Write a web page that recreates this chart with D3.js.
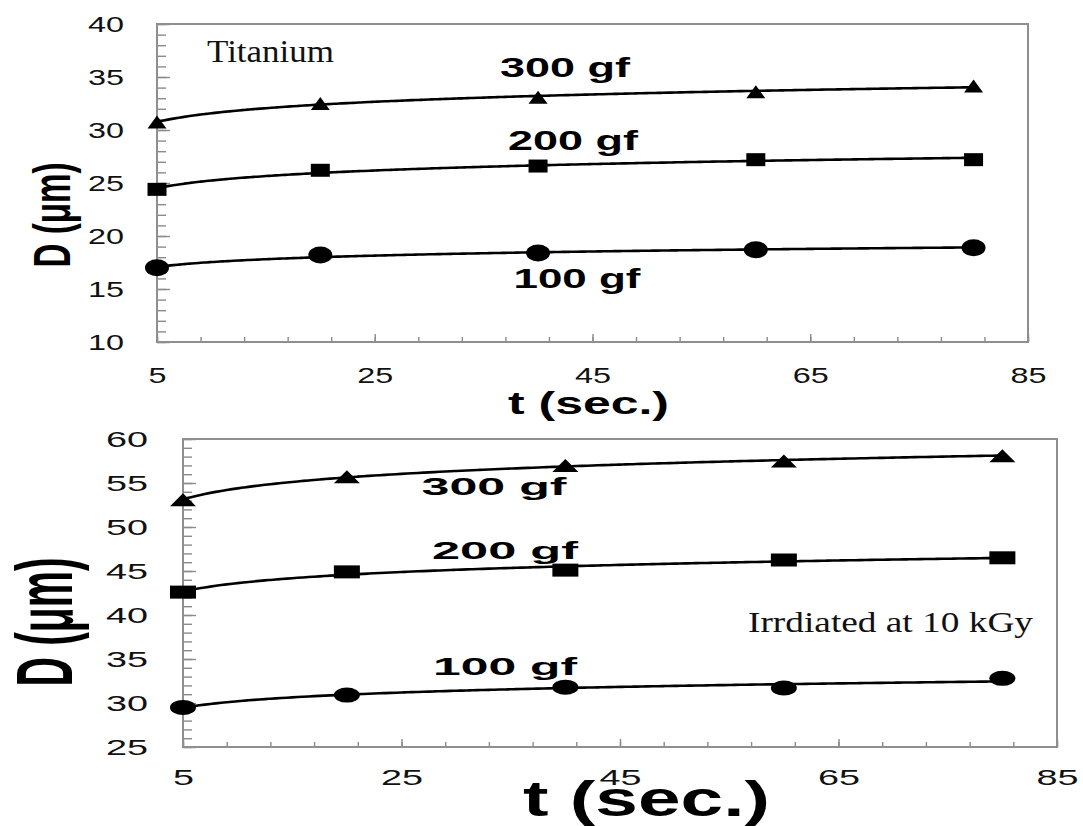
<!DOCTYPE html>
<html>
<head>
<meta charset="utf-8">
<script src="https://cdn.jsdelivr.net/npm/d3@7"></script>
<style>
  body { margin: 0; background: #fff; }
  svg { display: block; }
</style>
</head>
<body>
<div id="chart"></div>
<script>
// ---------- data ----------
var times = [5, 20, 40, 60, 80];
var loadLabels = ['300 gf', '200 gf', '100 gf'];
var markerShapes = ['triangle', 'square', 'circle'];

// Titanium (top panel), D in um
var titanium300 = [30.75, 32.5, 33.1, 33.6, 34.15];
var titanium200 = [24.4, 26.2, 26.6, 27.2, 27.2];
var titanium100 = [17.0, 18.2, 18.4, 18.7, 18.9];

// Irradiated at 10 kGy (bottom panel)
var irradiated300 = [53.1, 55.7, 57.0, 57.5, 58.1];
var irradiated200 = [42.6, 44.9, 45.1, 46.25, 46.5];
var irradiated100 = [29.5, 30.9, 31.8, 31.7, 32.8];

// tick labels
var xTickValues = [5, 25, 45, 65, 85];
var titaniumYTicks = [10, 15, 20, 25, 30, 35, 40];
var irradiatedYTicks = [25, 30, 35, 40, 45, 50, 55, 60];

var SANS = '"Liberation Sans", Arial, sans-serif';
var SERIF = '"Liberation Serif", "Times New Roman", serif';

var svg = d3.select('#chart').append('svg')
  .attr('width', 1083)
  .attr('height', 826);

// least squares fit  D = a + b*ln(t)  (trend line drawn by the plot)
function fitLog(xs, ys) {
  var lx = xs.map(Math.log);
  var mx = d3.mean(lx), my = d3.mean(ys);
  var sxy = d3.sum(lx, function (v, i) { return (v - mx) * (ys[i] - my); });
  var sxx = d3.sum(lx, function (v) { return (v - mx) * (v - mx); });
  var b = sxy / sxx;
  return { a: my - b * mx, b: b };
}

function markerPath(shape, w, h) {
  if (shape === 'triangle') {
    return 'M0,' + (-h / 2) + 'L' + (w / 2) + ',' + (h / 2) + 'L' + (-w / 2) + ',' + (h / 2) + 'Z';
  }
  if (shape === 'square') {
    return 'M' + (-w / 2) + ',' + (-h / 2) + 'h' + w + 'v' + h + 'h' + (-w) + 'Z';
  }
  // ellipse
  var rx = w / 2, ry = h / 2;
  return 'M' + (-rx) + ',0A' + rx + ',' + ry + ' 0 1,0 ' + rx + ',0A' + rx + ',' + ry + ' 0 1,0 ' + (-rx) + ',0Z';
}

function renderPanel(params) {
  var attrs = params;

  //Scales
  var x = d3.scaleLinear().domain([5, 85]).range([attrs.left, attrs.right]);
  var y = d3.scaleLinear().domain(attrs.yDomain).range([attrs.bottom, attrs.top]);

  var g = svg.append('g').attr('class', 'panel');

  // minor + major ticks (pointing inward)
  var xMinor = d3.range(5, 86, 4);
  var yMinor = d3.range(attrs.yDomain[0], attrs.yDomain[1] + 0.5, 1);

  g.append('g')
    .attr('transform', 'translate(0,' + attrs.bottom + ')')
    .call(d3.axisTop(x).tickValues(xMinor).tickSize(5).tickFormat(''))
    .call(function (a) { a.select('.domain').remove(); });
  g.append('g')
    .attr('transform', 'translate(0,' + attrs.bottom + ')')
    .call(d3.axisTop(x).tickValues(xTickValues).tickSize(8).tickFormat(''))
    .call(function (a) { a.select('.domain').remove(); });
  g.append('g')
    .attr('transform', 'translate(' + attrs.left + ',0)')
    .call(d3.axisRight(y).tickValues(yMinor).tickSize(9).tickFormat(''))
    .call(function (a) { a.select('.domain').remove(); });
  g.append('g')
    .attr('transform', 'translate(' + attrs.left + ',0)')
    .call(d3.axisRight(y).tickValues(attrs.yTicks).tickSize(13).tickFormat(''))
    .call(function (a) { a.select('.domain').remove(); });
  g.selectAll('.tick line').attr('stroke', '#8a8a8a').attr('stroke-width', 1.4);

  // frame
  g.append('rect')
    .attr('x', attrs.left)
    .attr('y', attrs.top)
    .attr('width', attrs.right - attrs.left)
    .attr('height', attrs.bottom - attrs.top)
    .attr('fill', 'none')
    .attr('stroke', '#8f8f8f')
    .attr('stroke-width', 2);

  // tick labels (the figure is stretched sideways, so use textLength)
  var xAxis = g.append('g')
    .attr('transform', 'translate(0,' + attrs.bottom + ')')
    .call(d3.axisBottom(x).tickValues(xTickValues).tickSize(0).tickPadding(0));
  xAxis.select('.domain').remove();
  xAxis.selectAll('text')
    .attr('y', attrs.xLabelBaseline - attrs.bottom)
    .attr('dy', null)
    .attr('font-family', SANS)
    .attr('font-size', attrs.tickFont)
    .attr('fill', '#111')
    .attr('textLength', function (d) { return String(d).length * attrs.charW; })
    .attr('lengthAdjust', 'spacingAndGlyphs');

  var yAxis = g.append('g')
    .attr('transform', 'translate(' + attrs.yLabelRight + ',0)')
    .call(d3.axisLeft(y).tickValues(attrs.yTicks).tickSize(0).tickPadding(0));
  yAxis.select('.domain').remove();
  yAxis.selectAll('text')
    .attr('x', 0)
    .attr('font-family', SANS)
    .attr('font-size', attrs.tickFont)
    .attr('fill', '#111')
    .attr('textLength', function (d) { return String(d).length * attrs.charW; })
    .attr('lengthAdjust', 'spacingAndGlyphs');

  // fitted curves
  var line = d3.line()
    .x(function (d) { return x(d[0]); })
    .y(function (d) { return y(d[1]); })
    .curve(d3.curveBasis);

  attrs.series.forEach(function (values, i) {
    var fit = fitLog(times, values);
    var pts = d3.range(times[0], times[times.length - 1] + 0.01, 0.5).map(function (t) {
      return [t, fit.a + fit.b * Math.log(t)];
    });
    g.append('path')
      .attr('d', line(pts))
      .attr('fill', 'none')
      .attr('stroke', '#000')
      .attr('stroke-width', 2.6);

    var m = attrs.markers[markerShapes[i]];
    g.selectAll('.mk' + i)
      .data(times.map(function (t, j) { return [t, values[j]]; }))
      .enter().append('path')
      .attr('class', 'mk' + i)
      .attr('transform', function (d) { return 'translate(' + x(d[0]) + ',' + y(d[1]) + ')'; })
      .attr('d', markerPath(markerShapes[i], m[0], m[1]))
      .attr('fill', '#000');
  });

  // load labels
  attrs.loadText.forEach(function (l, i) {
    g.append('text')
      .attr('x', l.cx)
      .attr('y', l.base)
      .attr('text-anchor', 'middle')
      .attr('font-family', SANS)
      .attr('font-weight', 'bold')
      .attr('font-size', l.size)
      .attr('textLength', l.len)
      .attr('lengthAdjust', 'spacingAndGlyphs')
      .text(loadLabels[i]);
  });

  // note
  g.append('text')
    .attr('x', attrs.note.x)
    .attr('y', attrs.note.base)
    .attr('font-family', SERIF)
    .attr('font-size', attrs.note.size)
    .attr('fill', '#111')
    .attr('textLength', attrs.note.len)
    .attr('lengthAdjust', 'spacingAndGlyphs')
    .text(attrs.note.text);

  // axis titles
  g.append('text')
    .attr('transform', 'translate(' + attrs.yTitle.x + ',' + attrs.yTitle.cy + ') rotate(-90)')
    .attr('text-anchor', 'middle')
    .attr('font-family', SANS)
    .attr('font-weight', 'bold')
    .attr('font-size', attrs.yTitle.size)
    .attr('textLength', attrs.yTitle.len)
    .attr('lengthAdjust', 'spacingAndGlyphs')
    .text('D (\u03bcm)');

  g.append('text')
    .attr('x', attrs.xTitle.x)
    .attr('y', attrs.xTitle.base)
    .attr('font-family', SANS)
    .attr('font-weight', 'bold')
    .attr('font-size', attrs.xTitle.size)
    .attr('textLength', attrs.xTitle.len)
    .attr('lengthAdjust', 'spacingAndGlyphs')
    .text('t (sec.)');
}

// ---------- top panel: Titanium ----------
renderPanel({
  left: 157, right: 1028, top: 24, bottom: 342,
  yDomain: [10, 40], yTicks: titaniumYTicks,
  tickFont: 22, charW: 18, yLabelRight: 124, xLabelBaseline: 383,
  series: [titanium300, titanium200, titanium100],
  markers: { triangle: [19, 13], square: [19, 13], circle: [24, 17] },
  loadText: [
    { cx: 565, base: 77, size: 28, len: 130 },
    { cx: 573, base: 150, size: 28, len: 130 },
    { cx: 577, base: 288, size: 28, len: 127 }
  ],
  note: { text: 'Titanium', x: 207, base: 62, size: 32, len: 127 },
  yTitle: { x: 70, cy: 215, size: 51, len: 105 },
  xTitle: { x: 508, base: 414, size: 31, len: 161 }
});

// ---------- bottom panel: irradiated ----------
renderPanel({
  left: 183, right: 1057, top: 439, bottom: 747,
  yDomain: [25, 60], yTicks: irradiatedYTicks,
  tickFont: 22, charW: 21, yLabelRight: 148, xLabelBaseline: 785,
  series: [irradiated300, irradiated200, irradiated100],
  markers: { triangle: [26, 13], square: [26, 13], circle: [26, 15] },
  loadText: [
    { cx: 494, base: 495, size: 23, len: 145 },
    { cx: 505, base: 559, size: 23, len: 146 },
    { cx: 505, base: 675, size: 23, len: 144 }
  ],
  note: { text: 'Irrdiated at 10 kGy', x: 748, base: 632, size: 29, len: 285 },
  yTitle: { x: 72, cy: 622, size: 79, len: 129 },
  xTitle: { x: 523, base: 816, size: 50, len: 247 }
});
</script>
</body>
</html>
